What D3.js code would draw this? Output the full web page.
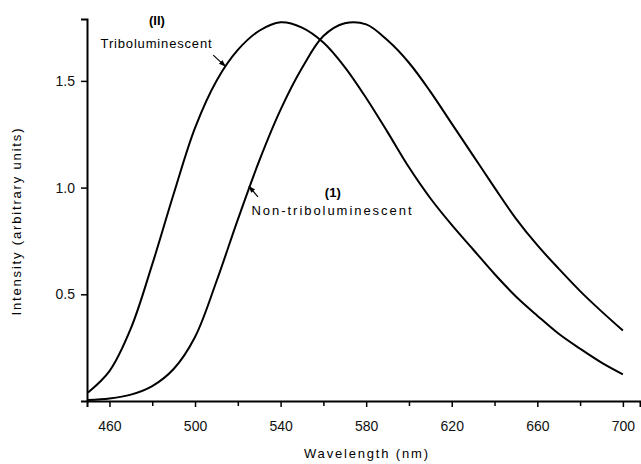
<!DOCTYPE html>
<html>
<head>
<meta charset="utf-8">
<script src="https://cdn.jsdelivr.net/npm/d3@7"></script>
<style>
  body { margin: 0; background: #fff; }
  svg { display: block; font-family: "Liberation Sans", Arial, sans-serif; }
</style>
</head>
<body>
<svg id="chart"></svg>
<script>
// wavelengths (nm) sampled every 10 nm
const wavelengths = [450, 460, 470, 480, 490, 500, 510, 520, 530, 540, 550, 560, 570,
  580, 590, 600, 610, 620, 630, 640, 650, 660, 670, 680, 690, 700];
// (II) triboluminescent
const triboValues = [0.04, 0.14, 0.34, 0.64, 0.97, 1.28, 1.50, 1.645, 1.735, 1.775, 1.75, 1.68, 1.565,
  1.42, 1.26, 1.095, 0.95, 0.825, 0.71, 0.595, 0.49, 0.40, 0.315, 0.245, 0.18, 0.125];
// (I) non-triboluminescent
const nonTriboValues = [0.005, 0.012, 0.03, 0.07, 0.15, 0.30, 0.56, 0.85, 1.125, 1.365, 1.56, 1.71, 1.77,
  1.765, 1.69, 1.585, 1.45, 1.30, 1.15, 1.00, 0.855, 0.73, 0.62, 0.515, 0.42, 0.33];

const xTicks = [460, 500, 540, 580, 620, 660, 700];
const xMinorTicks = [480, 520, 560, 600, 640, 680];
const yTicks = [0.5, 1.0, 1.5];

const width = 641, height = 464;
const margin = { top: 19, right: 1, bottom: 63, left: 87 };

const svg = d3.select("#chart").attr("width", width).attr("height", height);

const x = d3.scaleLinear().domain([449.5, 708]).range([margin.left, width - margin.right]);
const y = d3.scaleLinear().domain([0, 1.79]).range([height - margin.bottom, margin.top]);

// axes
const xAxis = svg.append("g")
  .attr("transform", `translate(0,${y(0)})`)
  .call(d3.axisBottom(x).tickValues(xTicks).tickFormat(d3.format("d")).tickSize(6).tickPadding(14));
svg.append("g")
  .attr("transform", `translate(0,${y(0)})`)
  .call(d3.axisBottom(x).tickValues(xMinorTicks).tickFormat("").tickSize(5))
  .call(g => g.select(".domain").remove());

const yAxis = svg.append("g")
  .attr("transform", `translate(${x.range()[0]},0)`)
  .call(d3.axisLeft(y).tickValues(yTicks).tickFormat(d3.format(".1f")).tickSize(6).tickPadding(6));

svg.selectAll(".domain").attr("stroke-width", 2).attr("stroke", "#000");
svg.selectAll(".tick line").attr("stroke-width", 1.5).attr("stroke", "#000");
svg.selectAll(".tick text").attr("font-size", 14).attr("font-family", "Liberation Sans").attr("fill", "#111");

// curves
const line = d3.line()
  .x((d, i) => x(wavelengths[i]))
  .y(d => y(d))
  .curve(d3.curveCatmullRom.alpha(0.5));

[triboValues, nonTriboValues].forEach(values => {
  svg.append("path")
    .attr("d", line(values))
    .attr("fill", "none")
    .attr("stroke", "#000")
    .attr("stroke-width", 2);
});

// axis titles
svg.append("text")
  .attr("x", 366).attr("y", 458)
  .attr("text-anchor", "middle")
  .attr("font-size", 13)
  .attr("textLength", 124).attr("lengthAdjust", "spacing")
  .text("Wavelength (nm)");

svg.append("text")
  .attr("transform", "translate(21,222) rotate(-90)")
  .attr("text-anchor", "middle")
  .attr("font-size", 13)
  .attr("textLength", 187).attr("lengthAdjust", "spacing")
  .text("Intensity (arbitrary units)");

// annotations
const defs = svg.append("defs");
defs.append("marker")
  .attr("id", "arrow")
  .attr("viewBox", "0 0 10 10")
  .attr("refX", 9).attr("refY", 5)
  .attr("markerWidth", 6).attr("markerHeight", 6)
  .attr("orient", "auto")
  .append("path").attr("d", "M0,1.5L10,5L0,8.5Z").attr("fill", "#000");

const labels = [
  { text: "(II)", wl: 482.2, v: 1.762, bold: true, len: null },
  { text: "Triboluminescent", wl: 481.8, v: 1.656, bold: false, len: 111 },
  { text: "(1)", wl: 564.4, v: 0.957, bold: true, len: null },
  { text: "Non-triboluminescent", wl: 563.8, v: 0.872, bold: false, len: 160 }
];
labels.forEach(l => {
  const t = svg.append("text")
    .attr("x", x(l.wl)).attr("y", y(l.v))
    .attr("text-anchor", "middle")
    .attr("font-size", 13)
    .attr("font-weight", l.bold ? "bold" : "normal")
    .text(l.text);
  if (l.len) t.attr("textLength", l.len).attr("lengthAdjust", "spacing");
});

const arrows = [
  { from: [508.5, 1.621], to: [514.2, 1.568] },
  { from: [529.4, 0.957], to: [525.2, 1.006] }
];
arrows.forEach(a => {
  svg.append("line")
    .attr("x1", x(a.from[0])).attr("y1", y(a.from[1]))
    .attr("x2", x(a.to[0])).attr("y2", y(a.to[1]))
    .attr("stroke", "#000").attr("stroke-width", 1.2)
    .attr("marker-end", "url(#arrow)");
});
</script>
</body>
</html>
